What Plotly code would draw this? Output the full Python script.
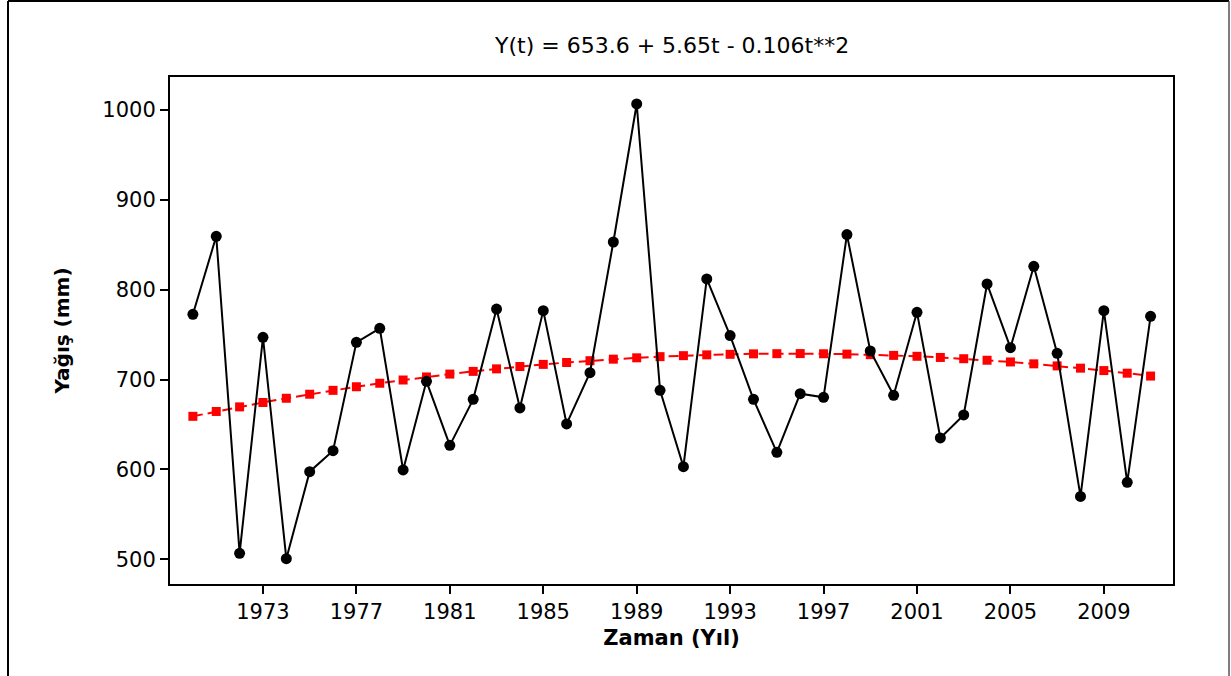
import plotly.graph_objects as go

years = list(range(1970, 2012))
rainfall = [772.6, 859.4, 506.6, 747.0, 500.7, 597.5, 620.9, 741.5, 757.0, 599.4,
            698.0, 626.8, 678.0, 778.5, 668.4, 776.7, 650.6, 707.7, 853.1, 1006.7,
            688.0, 603.0, 812.0, 748.9, 678.0, 619.0, 684.3, 680.3, 861.3, 731.8,
            682.5, 774.8, 635.0, 660.6, 806.4, 735.5, 826.0, 729.2, 570.0, 776.7,
            585.7, 770.4]
trend = [659.1, 664.5, 669.6, 674.5, 679.2, 683.7, 688.0, 692.0, 695.9, 699.5,
         702.9, 706.1, 709.1, 711.9, 714.5, 716.9, 719.0, 721.0, 722.7, 724.2,
         725.5, 726.6, 727.5, 728.1, 728.6, 728.8, 728.9, 728.7, 728.3, 727.7,
         726.9, 725.9, 724.6, 723.2, 721.5, 719.6, 717.5, 715.2, 712.7, 710.0,
         707.1, 703.9]
xtick_vals = [1973, 1977, 1981, 1985, 1989, 1993, 1997, 2001, 2005, 2009]
ytick_vals = [500, 600, 700, 800, 900, 1000]
title_text = "Y(t) = 653.6 + 5.65t - 0.106t**2"

FONT = "DejaVu Sans"

fig = go.Figure()
fig.add_trace(go.Scatter(
    x=years, y=trend, mode="lines+markers",
    line=dict(color="#FF0000", width=2, dash="10px,5px"),
    marker=dict(symbol="square", size=9, color="#FF0000"),
    showlegend=False))
fig.add_trace(go.Scatter(
    x=years, y=rainfall, mode="lines+markers",
    line=dict(color="black", width=2),
    marker=dict(symbol="circle", size=11, color="black"),
    showlegend=False))

L, R, T, B = 170, 58, 77, 92
W, H = 1231, 676
pw, ph = W - L - R, H - T - B

def px(xp):
    return (xp - L) / pw

def py(yp):
    return (H - B - yp) / ph

fig.update_layout(
    width=W, height=H,
    margin=dict(l=L, r=R, t=T, b=B),
    paper_bgcolor="white", plot_bgcolor="white",
    font=dict(family=FONT, size=21, color="black"),
    xaxis=dict(
        range=[1969.02, 2011.96], tickvals=xtick_vals,
        ticks="outside", ticklen=8, tickwidth=1.5, tickcolor="black",
        showline=True, mirror=True, linewidth=2, linecolor="black",
        showgrid=False, zeroline=False,
        tickfont=dict(family=FONT, size=21),
        title=dict(text="<b>Zaman (Yıl)</b>", standoff=7,
                   font=dict(family=FONT, size=21))),
    yaxis=dict(
        range=[472.5, 1036.7], tickvals=ytick_vals,
        ticks="outside", ticklen=8, tickwidth=1.5, tickcolor="black",
        showline=True, mirror=True, linewidth=2, linecolor="black",
        showgrid=False, zeroline=False,
        tickfont=dict(family=FONT, size=21),
        title=dict(text="<b>Yağış (mm)</b>", standoff=27,
                   font=dict(family=FONT, size=20))),
    annotations=[dict(text=title_text, xref="paper", yref="paper",
                      x=0.5, y=py(46), xanchor="center", yanchor="middle",
                      showarrow=False, font=dict(family=FONT, size=22))],
    shapes=[
        dict(type="line", xref="paper", yref="paper", x0=px(8), x1=px(8),
             y0=py(1), y1=py(690), line=dict(color="black", width=2)),
        dict(type="line", xref="paper", yref="paper", x0=px(8), x1=px(1229),
             y0=py(1), y1=py(1), line=dict(color="black", width=2)),
        dict(type="line", xref="paper", yref="paper", x0=px(1229), x1=px(1229),
             y0=py(1), y1=py(690), line=dict(color="#555555", width=1.5)),
    ],
)

fig.write_html("out.html")
